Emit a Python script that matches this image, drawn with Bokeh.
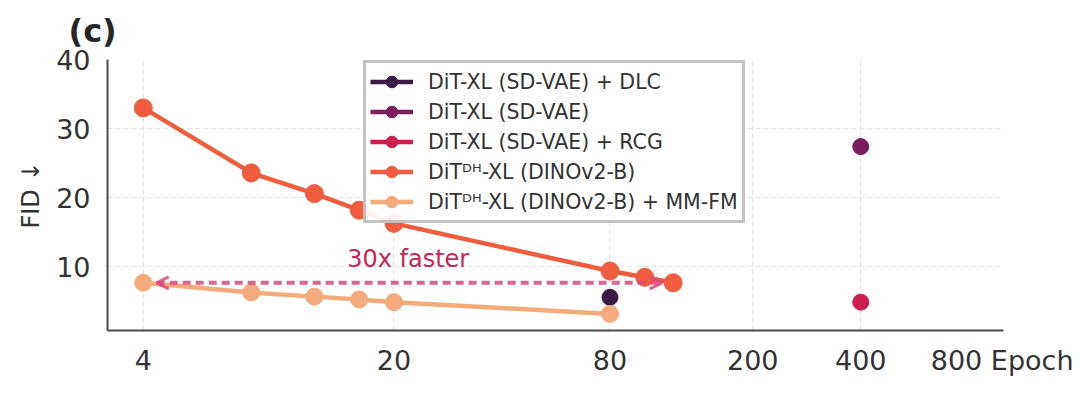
from bokeh.plotting import figure
from bokeh.models import FixedTicker, Legend, LegendItem, Arrow, OpenHead, Label, Range1d
from bokeh.embed import file_html
from bokeh.resources import INLINE

# ---------------- data ----------------
labels = [
    "DiT-XL (SD-VAE) + DLC",
    "DiT-XL (SD-VAE)",
    "DiT-XL (SD-VAE) + RCG",
    "DiT\u1d30\u1d34-XL (DINOv2-B)",
    "DiT\u1d30\u1d34-XL (DINOv2-B) + MM-FM",
]
colors = ["#3a1a42", "#7b1e5e", "#cf1d4f", "#ef5d3e", "#f5aa7c"]

epochs_dlc = [80]
fid_dlc = [5.6]

epochs_sdvae = [400]
fid_sdvae = [27.4]

epochs_rcg = [400]
fid_rcg = [4.9]

epochs_dh = [4, 8, 12, 16, 20, 80, 100, 120]
fid_dh = [33.0, 23.6, 20.6, 18.2, 16.3, 9.4, 8.5, 7.7]

epochs_mmfm = [4, 8, 12, 16, 20, 80]
fid_mmfm = [7.7, 6.3, 5.7, 5.3, 4.9, 3.2]

x_ticks = [4, 20, 80, 200, 400, 1000]
x_tick_labels = ["4", "20", "80", "200", "400", "800 Epoch"]
y_ticks = [10, 20, 30, 40]

annotation_text = "30x faster"
annotation_color = "#c8245a"
arrow_color = "#d9487c"

FONT = "DejaVu Sans"
TXT = "#333333"

# ---------------- figure ----------------
p = figure(
    width=1073, height=399,
    x_axis_type="log",
    x_range=Range1d(3.18, 1000), y_range=Range1d(0.8, 40),
    output_backend="svg", toolbar_location=None,
    min_border_left=107, min_border_right=70,
    min_border_top=57, min_border_bottom=69,
    title="(c)",
)
p.background_fill_color = "white"
p.border_fill_color = "white"
p.outline_line_color = None

p.title.align = "left"
p.title.offset = -39
p.title.text_font = FONT
p.title.text_font_size = "32px"
p.title.text_font_style = "bold"
p.title.text_color = "#262626"
p.title.standoff = 19

# axes
p.xaxis.ticker = FixedTicker(ticks=x_ticks)
p.xaxis.major_label_overrides = {t: l for t, l in zip(x_ticks, x_tick_labels)}
p.yaxis.ticker = FixedTicker(ticks=y_ticks)
for ax in (p.xaxis[0], p.yaxis[0]):
    ax.axis_line_color = "#4a4a4a"
    ax.axis_line_width = 2
    ax.major_tick_out = 0
    ax.major_tick_in = 0
    ax.minor_tick_out = 0
    ax.minor_tick_in = 0
    ax.major_label_text_font = FONT
    ax.major_label_text_font_size = "27px"
    ax.major_label_text_color = TXT
p.xaxis.major_label_standoff = 14
p.yaxis.major_label_standoff = 17
p.yaxis.axis_label = "FID \u2193"
p.yaxis.axis_label_text_font = FONT
p.yaxis.axis_label_text_font_size = "24px"
p.yaxis.axis_label_text_font_style = "normal"
p.yaxis.axis_label_text_color = TXT
p.yaxis.axis_label_standoff = 8

for g in (p.xgrid[0], p.ygrid[0]):
    g.grid_line_color = "#e3e3e3"
    g.grid_line_dash = "5 3"
    g.grid_line_width = 1.2

# ---------------- series ----------------
series = [
    (epochs_dlc, fid_dlc, 16),
    (epochs_sdvae, fid_sdvae, 16),
    (epochs_rcg, fid_rcg, 16),
    (epochs_dh, fid_dh, 18),
    (epochs_mmfm, fid_mmfm, 17),
]
items = []
for (xs, ys, sz), lab, col in zip(series, labels, colors):
    lr = p.line(xs, ys, line_color=col, line_width=4.5)
    sr = p.scatter(xs, ys, size=sz, fill_color=col, line_color=col)
    items.append(LegendItem(label=lab, renderers=[lr, sr]))

# ---------------- arrow + text ----------------
arr_y = fid_mmfm[0]
arr_x0 = epochs_mmfm[0] * 1.09
arr_x1 = epochs_dh[-1] / 1.075
p.add_layout(Arrow(
    x_start=arr_x0, y_start=arr_y, x_end=arr_x1, y_end=arr_y,
    start=OpenHead(size=12, line_color=arrow_color, line_width=3, line_alpha=0.85),
    end=OpenHead(size=12, line_color=arrow_color, line_width=3, line_alpha=0.85),
    line_color=arrow_color, line_width=4, line_dash="8 5", line_alpha=0.85,
))
p.add_layout(Label(
    x=(epochs_mmfm[0] * epochs_dh[-1]) ** 0.5, y=arr_y, y_offset=24,
    text=annotation_text, text_align="center", text_baseline="middle",
    text_font=FONT, text_font_size="24px", text_color=annotation_color,
))

# ---------------- legend ----------------
legend = Legend(
    items=items, location=(256, 107),
    label_text_font=FONT, label_text_font_size="20.5px", label_text_color=TXT,
    glyph_width=43, glyph_height=29, label_height=29, spacing=1,
    padding=4, margin=0, label_standoff=15,
    border_line_color="#888888", border_line_width=3,
    background_fill_color="white", background_fill_alpha=0.92,
)
p.add_layout(legend)

open("out.html", "w").write(file_html(p, INLINE))
